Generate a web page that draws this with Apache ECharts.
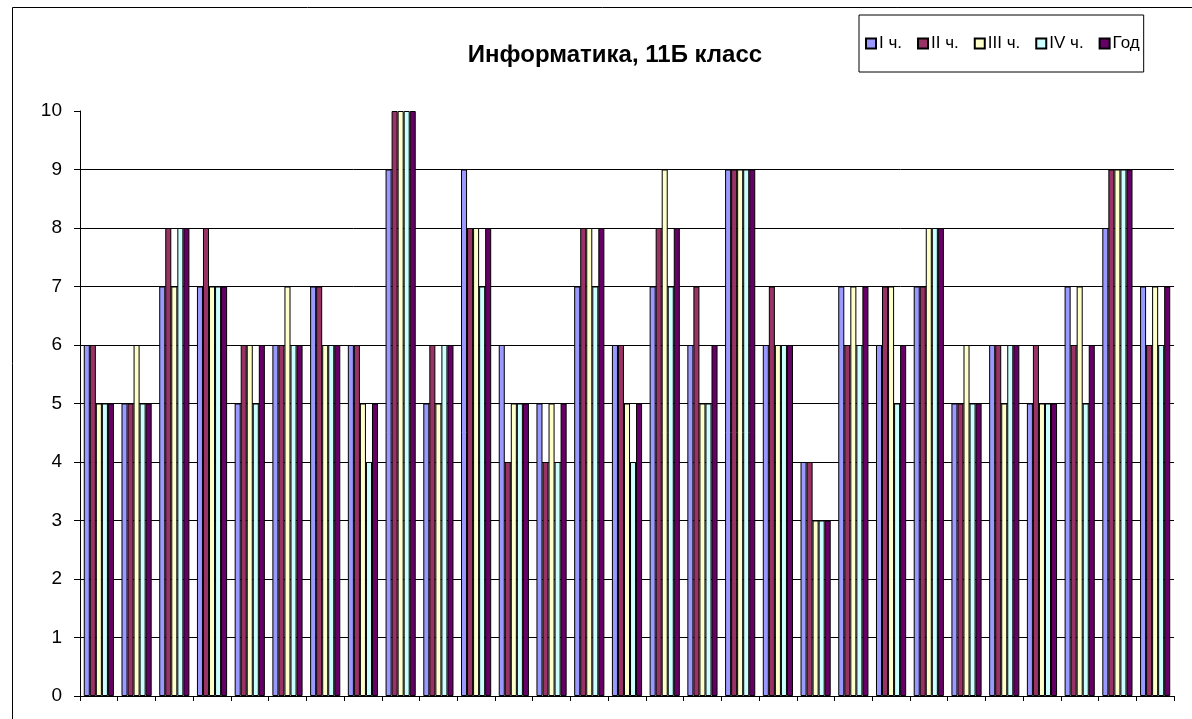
<!DOCTYPE html>
<html><head><meta charset="utf-8">
<script src="https://cdn.jsdelivr.net/npm/echarts@6/dist/echarts.min.js"></script>
<style>html,body{margin:0;padding:0;background:#fff}#c{width:1192px;height:719px}</style>
</head><body><div id="c"></div>
<script>
const titleText = 'Информатика, 11Б класс';
const categories = ['1','2','3','4','5','6','7','8','9','10','11','12','13','14','15','16','17','18','19','20','21','22','23','24','25','26','27','28','29'];
const seriesNames = ['I ч.', 'II ч.', 'III ч.', 'IV ч.', 'Год'];
const q1   = [6,5,7,7,5,6,7,6,9,5,9,6,5,7,6,7,6,9,6,4,7,6,7,5,6,5,7,8,7];
const q2   = [6,5,8,8,6,6,7,6,10,6,8,4,4,8,6,8,7,9,7,4,6,7,7,5,6,6,6,9,6];
const q3   = [5,6,7,7,6,7,6,5,10,5,8,5,5,8,5,9,5,9,6,3,7,7,8,6,5,5,7,9,7];
const q4   = [5,5,8,7,5,6,6,4,10,6,7,5,4,7,4,7,5,9,6,3,6,5,8,5,6,5,5,9,6];
const year = [5,5,8,7,6,6,6,5,10,6,8,5,5,8,5,8,6,9,6,3,7,6,8,5,6,5,6,9,7];
const yMin = 0, yMax = 10, yStep = 1;

const colors = ['#9999FF', '#993366', '#FFFFCC', '#CCFFFF', '#660066'];
const allData = [q1, q2, q3, q4, year];
const FONT = '"Liberation Sans", Arial, sans-serif';

const chart = echarts.init(document.getElementById('c'), null, {renderer: 'canvas'});
chart.setOption({
  animation: false,
  backgroundColor: '#fff',
  graphic: [{
    type: 'rect', silent: true, z: -10,
    shape: {x: 12.5, y: 7.5, width: 1300, height: 800},
    style: {fill: 'none', stroke: '#000', lineWidth: 1}
  }],
  title: {
    text: titleText, left: 610, top: 38, textAlign: 'center',
    textStyle: {fontFamily: FONT, fontWeight: 'bold', fontSize: 24, color: '#000'}
  },
  legend: {
    left: 859, top: 15, orient: 'horizontal',
    padding: [20, 4, 20, 6],
    borderColor: '#000', borderWidth: 1,
    itemWidth: 10, itemHeight: 10, itemGap: 15,
    icon: 'rect',
    textStyle: {fontFamily: FONT, fontSize: 17, color: '#000', padding: [0,0,0,-2]},
    data: seriesNames
  },
  grid: {left: 80, right: 18, top: 111, bottom: 23, containLabel: false},
  xAxis: {
    type: 'category', data: categories, boundaryGap: true,
    axisLine: {lineStyle: {color: '#000', width: 1}},
    axisTick: {show: true, length: 5, lineStyle: {color: '#000'}},
    axisLabel: {show: false},
    splitLine: {show: false}
  },
  yAxis: {
    type: 'value', min: yMin, max: yMax, interval: yStep,
    axisLine: {show: true, lineStyle: {color: '#000', width: 1}},
    axisTick: {show: true, length: 6, lineStyle: {color: '#000'}},
    axisLabel: {fontFamily: FONT, fontSize: 19, color: '#000', margin: 18},
    splitLine: {show: true, showMaxLine: false, lineStyle: {color: '#000', width: 1}}
  },
  series: seriesNames.map((n, i) => ({
    name: n, type: 'bar', data: allData[i],
    barGap: '0%', barCategoryGap: '20%',
    itemStyle: {color: colors[i], borderColor: '#000', borderWidth: 1}
  }))
});
</script></body></html>
